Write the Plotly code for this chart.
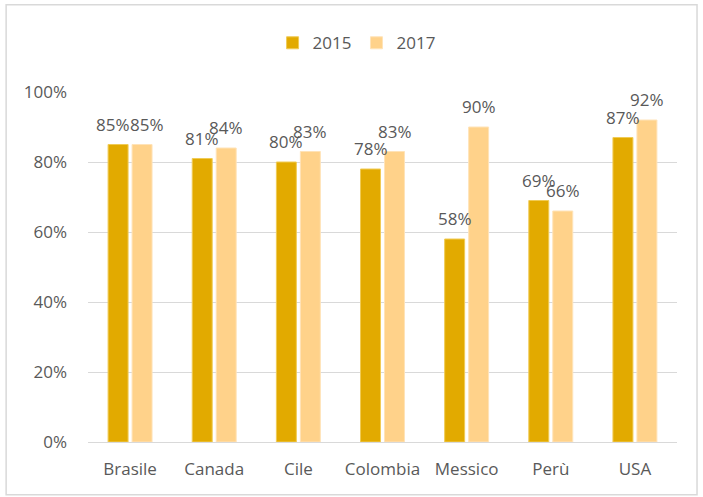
import plotly.graph_objects as go

categories = ["Brasile", "Canada", "Cile", "Colombia", "Messico", "Perù", "USA"]
values_2015 = [85, 81, 80, 78, 58, 69, 87]
values_2017 = [85, 84, 83, 83, 90, 66, 92]
tick_vals = [0, 20, 40, 60, 80, 100]
tick_text = ["0%", "20%", "40%", "60%", "80%", "100%"]

FONT = "Open Sans, Noto Sans, sans-serif"
TXT = "#595959"
C15 = "#E2AA00"
C17 = "#FFD28A"

fig = go.Figure()
fig.add_trace(go.Bar(
    name="2015", x=categories, y=values_2015,
    marker=dict(color=C15, line=dict(color="#F0CB55", width=1)),
    offsetgroup="a",
))
fig.add_trace(go.Bar(
    name="2017", x=categories, y=values_2017,
    marker=dict(color=C17, line=dict(color="#FFE3B8", width=1)),
    offsetgroup="b",
))

# data labels placed through the axes (category + value), shifted over each bar
annotations = []
label_font = dict(family=FONT, size=17, color=TXT)
for i, cat in enumerate(categories):
    extra = 5 if values_2015[i] == values_2017[i] else 0
    annotations.append(dict(x=cat, y=values_2015[i], xref="x", yref="y",
                            text=f"{values_2015[i]}%", showarrow=False,
                            xanchor="center", yanchor="bottom",
                            xshift=-12 - extra, yshift=7, font=label_font))
    annotations.append(dict(x=cat, y=values_2017[i], xref="x", yref="y",
                            text=f"{values_2017[i]}%", showarrow=False,
                            xanchor="center", yanchor="bottom",
                            xshift=12 + extra, yshift=7, font=label_font))

fig.update_layout(
    width=703, height=497,
    margin=dict(l=88, r=26, t=92, b=55, autoexpand=False),
    paper_bgcolor="white", plot_bgcolor="white",
    font=dict(family=FONT, color=TXT, size=17),
    barmode="group", bargap=0.43, bargroupgap=0.167,
    showlegend=True,
    legend=dict(orientation="h", x=0.456, xanchor="center", y=0.913,
                yanchor="middle", yref="container",
                font=dict(size=17, color=TXT, family=FONT),
                itemwidth=30, traceorder="normal"),
    xaxis=dict(showgrid=False, showline=True, linecolor="#D9D9D9", linewidth=1,
               ticks="", tickfont=dict(size=17, color=TXT), fixedrange=True,
               automargin=False, ticklabelstandoff=12),
    yaxis=dict(range=[0, 100], tickvals=tick_vals, ticktext=tick_text,
               showgrid=True, gridcolor="#D9D9D9", gridwidth=1,
               zeroline=False, showline=False, ticks="",
               tickfont=dict(size=17, color=TXT), ticklabelstandoff=20,
               automargin=False),
    annotations=annotations,
    shapes=[dict(type="rect", xref="paper", yref="paper",
                 x0=-0.139, x1=1.034, y0=-0.151, y1=1.249,
                 line=dict(color="#D9D9D9", width=1.5), fillcolor="rgba(0,0,0,0)",
                 layer="below")],
)

fig.write_html("out.html", config={"displayModeBar": False},
               post_script="document.body.style.margin='0';document.body.style.padding='0';")
